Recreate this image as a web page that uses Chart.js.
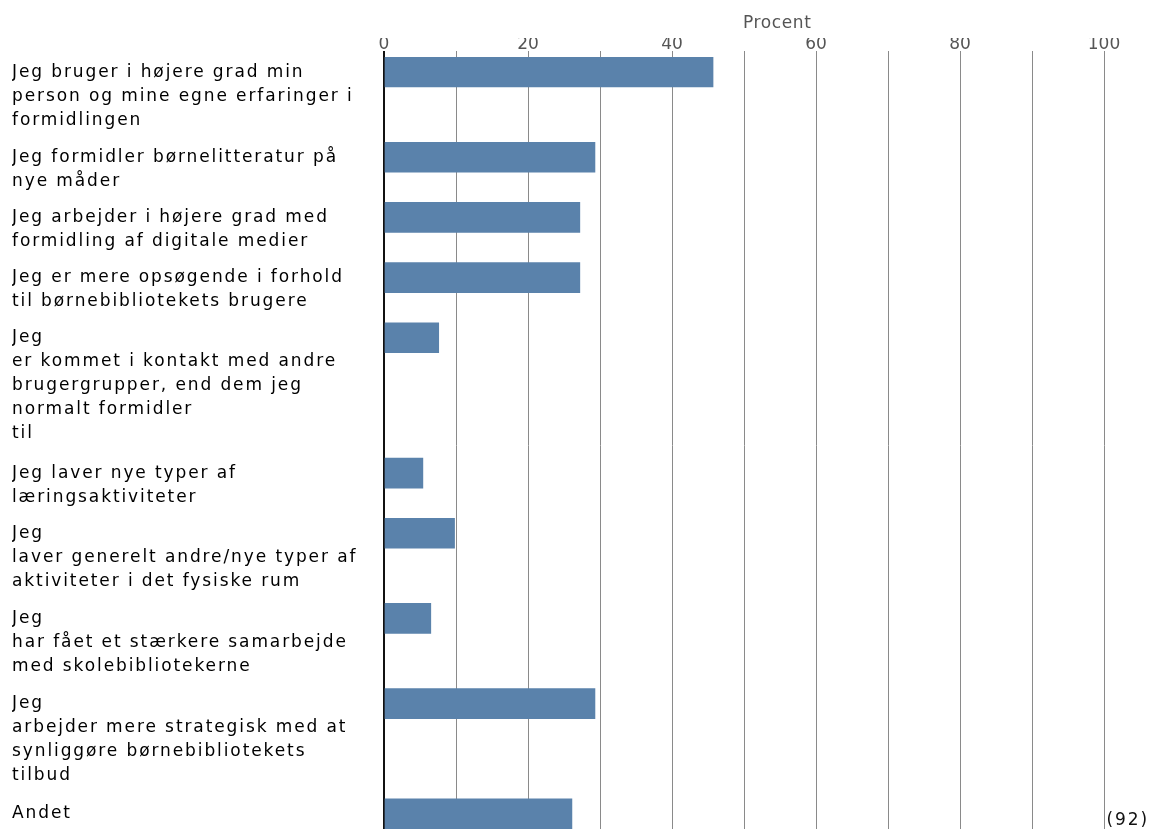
<!DOCTYPE html>
<html lang="da">
<head>
<meta charset="utf-8">
<title>Procent</title>
<script src="https://cdn.jsdelivr.net/npm/chart.js@4.4.1/dist/chart.umd.min.js"></script>
<style>
  html, body { margin: 0; padding: 0; background: #fff; overflow: hidden; }
  #wrap { position: relative; width: 1149px; height: 834px; }
</style>
</head>
<body>
<div id="wrap"><canvas id="surveyChart"></canvas></div>
<script>
// answers, one array of text lines per category (line breaks as in the survey)
const answerLabels = [
    ['Jeg bruger i højere grad min', 'person og mine egne erfaringer i', 'formidlingen'],
    ['Jeg formidler børnelitteratur på', 'nye måder'],
    ['Jeg arbejder i højere grad med', 'formidling af digitale medier'],
    ['Jeg er mere opsøgende i forhold', 'til børnebibliotekets brugere'],
    ['Jeg', 'er kommet i kontakt med andre', 'brugergrupper, end dem jeg', 'normalt formidler', 'til'],
    ['Jeg laver nye typer af', 'læringsaktiviteter'],
    ['Jeg', 'laver generelt andre/nye typer af', 'aktiviteter i det fysiske rum'],
    ['Jeg', 'har fået et stærkere samarbejde', 'med skolebibliotekerne'],
    ['Jeg', 'arbejder mere strategisk med at', 'synliggøre børnebibliotekets', 'tilbud'],
    ['Andet']
];
const percentValues = [45.7, 29.3, 27.2, 27.2, 7.6, 5.4, 9.8, 6.5, 29.3, 26.1];
const percentTicks = [0, 20, 40, 60, 80, 100];
const axisTitle = 'Procent';
const respondentNote = '(92)';

// each category takes as much room as its label needs
const LINE = 0.96;
const ROW_GAP = 0.4;
const BAR_OFFSET = 0.6;
let rowStarts = [];
let rowPos = 0;
answerLabels.forEach(lines => {
    rowStarts.push(rowPos);
    rowPos += lines.length + ROW_GAP;
});
const totalRows = rowPos;
const barCenters = rowStarts.map(s => s + BAR_OFFSET);
const labelCenters = answerLabels.map((lines, i) => barCenters[i] + (lines.length - 1) * LINE / 2);

const textExtras = {
    id: 'textExtras',
    beforeDraw(chart) {
        chart.ctx.letterSpacing = '0px';
    },
    afterDatasetsDraw(chart) {
        // the category labels are drawn after the bars, a bit spaced out
        chart.ctx.letterSpacing = '1.9px';
    },
    afterDraw(chart) {
        const c = chart.ctx;
        const area = chart.chartArea;
        c.save();
        c.letterSpacing = '0.6px';
        c.font = '17px "DejaVu Sans"';
        c.fillStyle = '#555';
        c.textAlign = 'left';
        c.textBaseline = 'middle';
        c.fillText(axisTitle, (area.left + area.right) / 2 - 1, 24);
        c.letterSpacing = '1.9px';
        c.font = '17px "DejaVu Sans"';
        c.fillStyle = '#111';
        c.textAlign = 'right';
        c.fillText(respondentNote, chart.width, 821);
        c.restore();
        c.letterSpacing = '0px';
    }
};

const ctx = document.getElementById('surveyChart').getContext('2d');
const chart = new Chart(ctx, {
    type: 'bar',
    data: {
        datasets: [{
            data: percentValues.map((v, i) => ({ x: v, y: barCenters[i] })),
            backgroundColor: '#5a82ab',
            borderWidth: 0,
            barThickness: 30
        }]
    },
    options: {
        indexAxis: 'y',
        responsive: true,
        maintainAspectRatio: false,
        animation: false,
        layout: {
            padding: { top: 38, left: 12, right: 45, bottom: 0 }
        },
        plugins: {
            legend: { display: false },
            tooltip: { enabled: false }
        },
        scales: {
            x: {
                type: 'linear',
                position: 'top',
                min: 0,
                max: 100,
                ticks: {
                    stepSize: 10,
                    autoSkip: false,
                    maxRotation: 0,
                    padding: -2,
                    color: '#555',
                    font: { family: 'DejaVu Sans', size: 17, lineHeight: 1 },
                    callback: v => percentTicks.includes(v) ? v : ''
                },
                grid: {
                    color: c => (c.tick && c.tick.value === 0) ? '#111' : '#8a8a8a',
                    lineWidth: c => (c.tick && c.tick.value === 0) ? 2 : 1,
                    tickLength: 6,
                    drawTicks: true
                },
                border: { display: false }
            },
            y: {
                type: 'linear',
                reverse: true,
                offset: false,
                min: 0,
                max: totalRows,
                afterBuildTicks(scale) {
                    scale.ticks = labelCenters.map(v => ({ value: v }));
                },
                afterFit(scale) {
                    scale.width = 372;
                    scale.paddingTop = 0;
                    scale.paddingBottom = 0;
                },
                ticks: {
                    z: 1,
                    autoSkip: false,
                    crossAlign: 'far',
                    padding: 0,
                    color: '#000',
                    font: { family: 'DejaVu Sans', size: 17, lineHeight: 24 / 17 },
                    callback: (v, i) => answerLabels[i]
                },
                grid: { display: false, offset: false },
                border: { display: false }
            }
        }
    },
    plugins: [textExtras]
});
</script>
</body>
</html>
